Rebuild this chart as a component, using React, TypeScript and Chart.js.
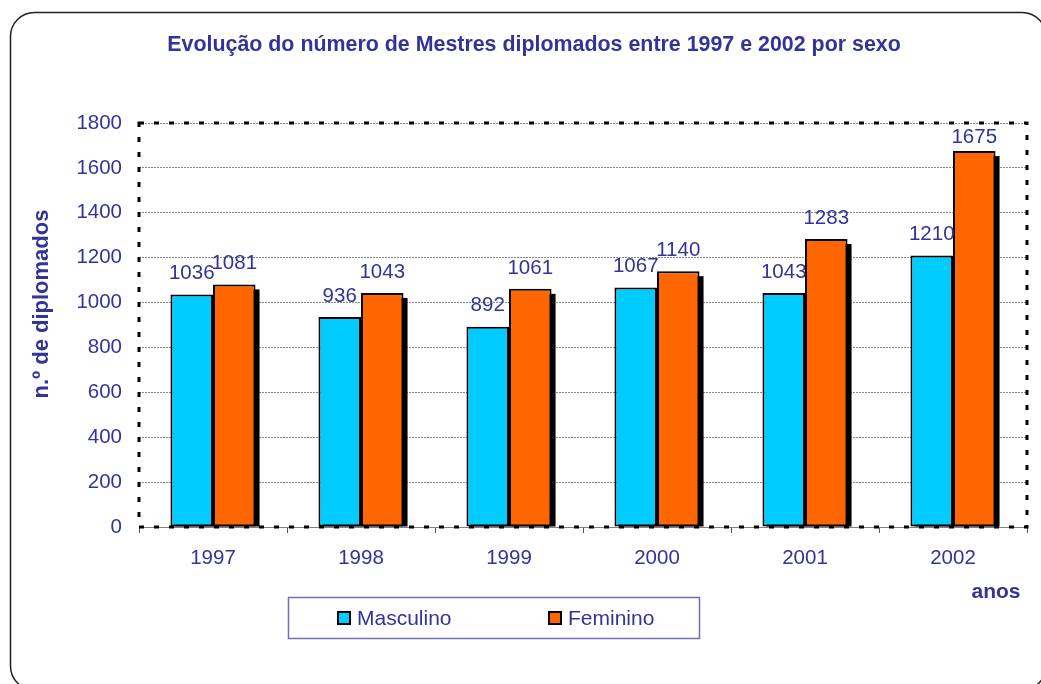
import React, { useEffect, useRef } from "react";
import { Chart, registerables } from "chart.js";

Chart.register(...registerables);

const years = ["1997", "1998", "1999", "2000", "2001", "2002"];
const masculino = [1036, 936, 892, 1067, 1043, 1210];
const feminino = [1081, 1043, 1061, 1140, 1283, 1675];
const yTicksMax = 1800;
const yStep = 200;

const TITLE = "Evolução do número de Mestres diplomados entre 1997 e 2002 por sexo";
const Y_TITLE = "n.º de diplomados";
const X_TITLE = "anos";

const FONT = "'Liberation Sans', Arial, sans-serif";
const TEXT = "#333399";
const BLUE = "#00CCFF";
const ORANGE = "#FF6600";

const W = 1041;
const H = 684;

const decorPlugin = {
  id: "decor",
  beforeDraw(chart: any) {
    const ctx = chart.ctx;
    ctx.save();
    ctx.fillStyle = "#ffffff";
    ctx.fillRect(0, 0, W, H);
    // outer rounded frame
    ctx.strokeStyle = "#222222";
    ctx.lineWidth = 1.5;
    const x0 = 10.5, y0 = 12.5, x1 = 1046, y1 = 690, r = 24;
    ctx.beginPath();
    ctx.moveTo(x0 + r, y0);
    ctx.lineTo(x1 - r, y0);
    ctx.arcTo(x1, y0, x1, y0 + r, r);
    ctx.lineTo(x1, y1 - r);
    ctx.arcTo(x1, y1, x1 - r, y1, r);
    ctx.lineTo(x0 + r, y1);
    ctx.arcTo(x0, y1, x0, y1 - r, r);
    ctx.lineTo(x0, y0 + r);
    ctx.arcTo(x0, y0, x0 + r, y0, r);
    ctx.stroke();

    // title
    ctx.fillStyle = TEXT;
    ctx.font = `bold 21.4px ${FONT}`;
    ctx.textAlign = "center";
    ctx.textBaseline = "middle";
    ctx.fillText(TITLE, 534, 45);

    // y title
    ctx.save();
    ctx.translate(42, 304);
    ctx.rotate(-Math.PI / 2);
    ctx.font = `bold 22px ${FONT}`;
    ctx.fillText(Y_TITLE, 0, 0);
    ctx.restore();

    // x title
    ctx.font = `bold 21px ${FONT}`;
    ctx.fillText(X_TITLE, 996, 592);

    // legend
    ctx.strokeStyle = "#6f6fb8";
    ctx.lineWidth = 1.5;
    ctx.strokeRect(288.5, 597.5, 411, 41);
    const items = chart.data.datasets;
    const itemX = [337, 548];
    items.forEach((ds: any, i: number) => {
      const sx = itemX[i];
      ctx.fillStyle = ds.backgroundColor;
      ctx.fillRect(sx, 611, 14, 14);
      ctx.strokeStyle = "#000";
      ctx.lineWidth = 2;
      ctx.strokeRect(sx + 1, 612, 12, 12);
      ctx.fillStyle = TEXT;
      ctx.font = `21px ${FONT}`;
      ctx.textAlign = "left";
      ctx.textBaseline = "middle";
      ctx.fillText(ds.label, sx + 20, 619);
    });
    ctx.restore();
  },
  beforeDatasetsDraw(chart: any) {
    const ctx = chart.ctx;
    const area = chart.chartArea;
    ctx.save();
    // shadows
    ctx.fillStyle = "#000";
    chart.data.datasets.forEach((_: any, di: number) => {
      const meta = chart.getDatasetMeta(di);
      meta.data.forEach((bar: any) => {
        const p = bar.getProps(["x", "y", "base", "width"], true);
        const left = p.x - p.width / 2 + 4;
        const top = p.y + 5;
        ctx.fillRect(left, top, p.width, p.base - top);
      });
    });
    // axis baseline
    ctx.strokeStyle = "#808080";
    ctx.lineWidth = 1;
    ctx.beginPath();
    ctx.moveTo(area.left, area.bottom + 0.5);
    ctx.lineTo(area.right, area.bottom + 0.5);
    ctx.stroke();
    // dashed plot border
    ctx.strokeStyle = "#000";
    ctx.lineWidth = 3;
    ctx.setLineDash([5, 10]);
    ctx.strokeRect(area.left, area.top, area.right - area.left, area.bottom - area.top);
    ctx.setLineDash([]);
    ctx.restore();
  },
  afterDatasetsDraw(chart: any) {
    const ctx = chart.ctx;
    const area = chart.chartArea;
    ctx.save();
    ctx.fillStyle = TEXT;
    ctx.font = `20.5px ${FONT}`;
    ctx.textAlign = "center";
    ctx.textBaseline = "middle";
    chart.data.datasets.forEach((ds: any, di: number) => {
      const meta = chart.getDatasetMeta(di);
      meta.data.forEach((bar: any, i: number) => {
        const p = bar.getProps(["x", "y"], true);
        const y = Math.max(p.y - 21, area.top + 14);
        ctx.fillText(String(ds.data[i]), p.x, y);
      });
    });
    ctx.restore();
  },
};

export default function App() {
  const ref = useRef<HTMLCanvasElement | null>(null);
  useEffect(() => {
    if (!ref.current) return;
    const chart = new Chart(ref.current, {
      type: "bar",
      data: {
        labels: years,
        datasets: [
          {
            label: "Masculino",
            data: masculino,
            backgroundColor: BLUE,
            borderColor: "#000",
            borderWidth: 2,
            borderSkipped: false,
            categoryPercentage: 0.575,
            barPercentage: 1,
          },
          {
            label: "Feminino",
            data: feminino,
            backgroundColor: ORANGE,
            borderColor: "#000",
            borderWidth: 2,
            borderSkipped: false,
            categoryPercentage: 0.575,
            barPercentage: 1,
          },
        ],
      },
      options: {
        responsive: false,
        animation: false,
        devicePixelRatio: 1,
        layout: { padding: { top: 123, left: 0, right: 14, bottom: 0 } },
        plugins: {
          legend: { display: false },
          title: { display: false },
          tooltip: { enabled: false },
        },
        scales: {
          x: {
            afterFit: (s: any) => {
              s.height = 157;
            },
            border: { display: false },
            grid: {
              offset: true,
              drawOnChartArea: false,
              drawTicks: true,
              tickLength: 6,
              color: "#555",
            },
            ticks: {
              color: TEXT,
              font: { family: FONT, size: 20.5 },
              padding: 13,
            },
          },
          y: {
            min: 0,
            max: yTicksMax,
            afterFit: (s: any) => {
              s.width = 139;
            },
            border: { display: false, dash: [2, 1] },
            grid: { color: "#8a8a8a", lineWidth: 1, drawTicks: false },
            ticks: {
              stepSize: yStep,
              color: TEXT,
              font: { family: FONT, size: 20.5 },
              padding: 17,
              callback: (v: any) => String(v),
            },
          },
        },
      },
      plugins: [decorPlugin],
    } as any);
    return () => chart.destroy();
  }, []);
  return (
    <div style={{ position: "fixed", left: 0, top: 0, width: W, height: H }}>
      <canvas ref={ref} width={W} height={H} style={{ display: "block" }} />
    </div>
  );
}
